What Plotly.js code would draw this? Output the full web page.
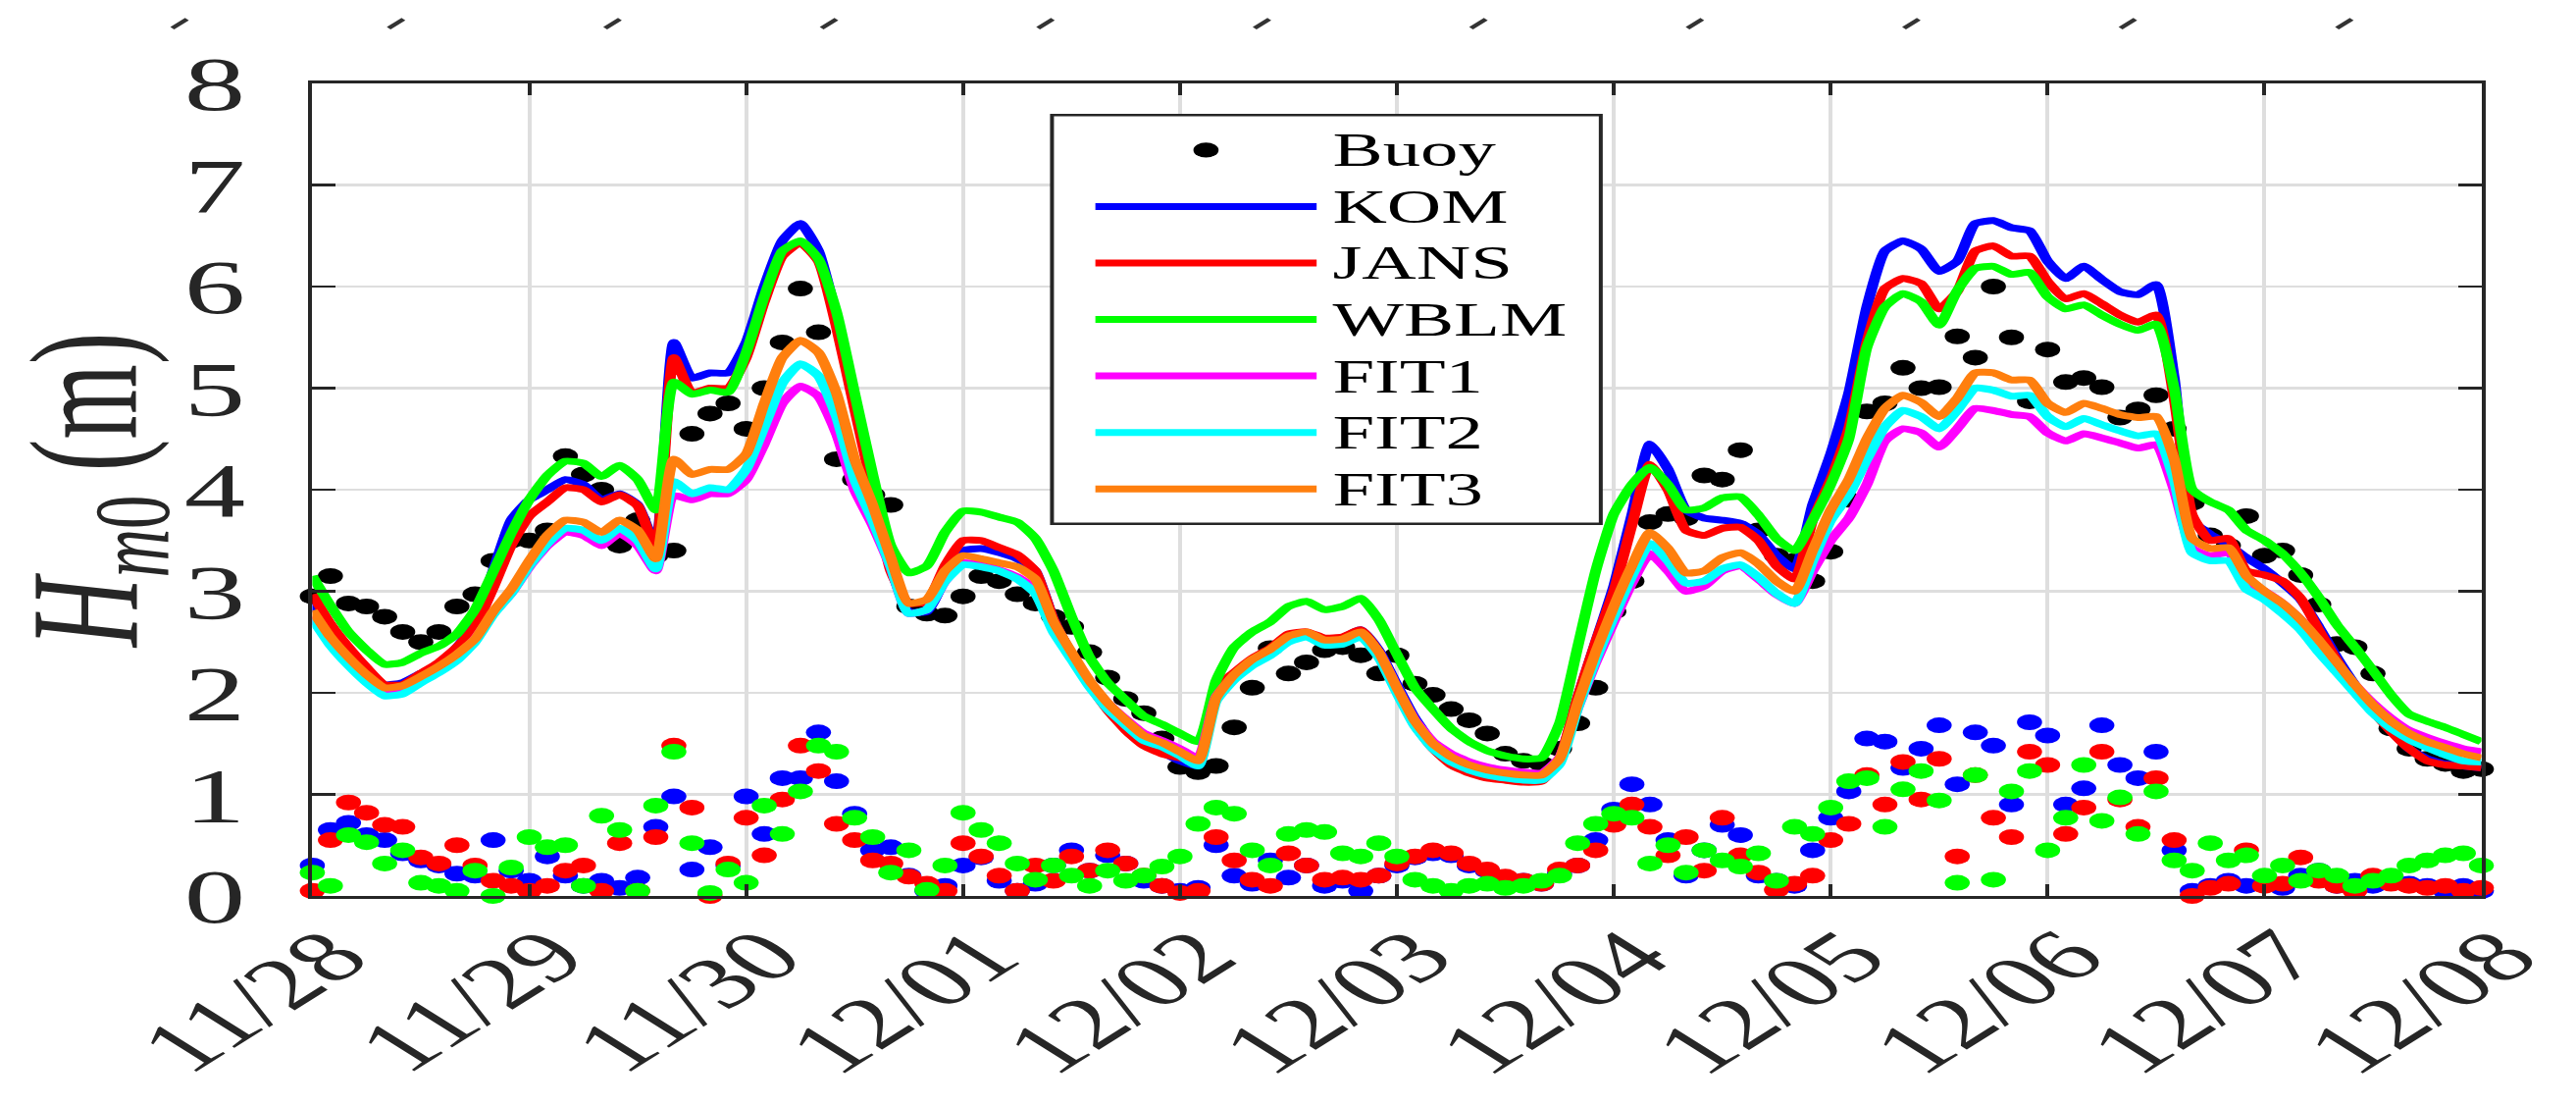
<!DOCTYPE html>
<html><head><meta charset="utf-8">
<script src="https://cdn.plot.ly/plotly-3.0.1.min.js"></script>
<style>
html,body{margin:0;padding:0;background:#fff;overflow:hidden;}
#wrap{width:2626px;height:1126px;overflow:hidden;position:relative;background:#fff;}
#chart{width:1641px;height:1126px;transform:scaleX(1.6);transform-origin:0 0;}
</style></head><body><div id="wrap"><div id="chart"></div></div>
<script>
// ---- data (2-hourly samples from 11/28 00:00) ----
const stepHours = 2;
const tickDates = ['2016-11-28','2016-11-29','2016-11-30','2016-12-01','2016-12-02','2016-12-03','2016-12-04','2016-12-05','2016-12-06','2016-12-07','2016-12-08'];
const tickLabels = ['11/28','11/29','11/30','12/01','12/02','12/03','12/04','12/05','12/06','12/07','12/08'];
const yTicks = [0,1,2,3,4,5,6,7,8];

const buoy = [2.95,3.15,2.88,2.85,2.75,2.6,2.5,2.6,2.85,2.97,3.3,3.5,
3.5,3.6,4.33,4.15,4.0,3.45,3.7,3.35,3.4,4.55,4.75,4.85,
4.6,5.0,5.45,5.98,5.55,4.3,4.1,3.95,3.85,2.85,2.78,2.76,
2.95,3.15,3.1,2.97,2.88,2.75,2.65,2.4,2.15,1.94,1.8,1.55,
1.27,1.22,1.28,1.66,2.05,2.44,2.19,2.3,2.42,2.45,2.37,2.19,
2.37,2.09,1.98,1.84,1.73,1.6,1.4,1.33,1.3,1.45,1.7,2.05,
2.8,3.1,3.68,3.76,3.72,4.14,4.1,4.39,3.6,3.35,3.3,3.1,
3.39,3.9,4.77,4.85,5.2,5.0,5.01,5.51,5.3,6.0,5.5,4.87,
5.38,5.06,5.1,5.01,4.71,4.79,4.93,4.6,3.87,3.55,3.45,3.74,
3.35,3.4,3.16,2.87,2.48,2.45,2.19,1.65,1.45,1.35,1.3,1.23,
1.25];

const kom = [2.88,2.62,2.4,2.22,2.08,2.1,2.19,2.28,2.45,2.68,3.2,3.7,
3.9,4.0,4.1,4.05,3.9,3.96,3.85,3.45,5.45,5.1,5.15,5.15,
5.45,6.0,6.45,6.62,6.35,5.7,4.9,4.1,3.25,2.8,2.8,3.12,
3.4,3.42,3.38,3.32,3.2,2.72,2.38,2.08,1.85,1.67,1.52,1.42,
1.33,1.28,2.05,2.18,2.3,2.4,2.55,2.57,2.5,2.54,2.62,2.42,
2.08,1.75,1.5,1.32,1.25,1.19,1.15,1.13,1.15,1.35,1.95,2.5,
3.05,3.75,4.45,4.2,3.8,3.72,3.7,3.67,3.56,3.35,3.22,3.85,
4.35,4.95,5.8,6.35,6.45,6.37,6.15,6.25,6.62,6.65,6.58,6.55,
6.25,6.08,6.2,6.07,5.95,5.92,6.02,5.1,3.7,3.56,3.46,3.33,
3.22,3.08,2.92,2.65,2.35,2.08,1.84,1.63,1.45,1.35,1.3,1.28,
1.26];

const jans = [2.97,2.68,2.45,2.25,2.08,2.08,2.19,2.3,2.45,2.65,3.03,3.45,
3.74,3.88,4.02,4.0,3.88,3.95,3.84,3.42,5.3,4.95,5.0,5.0,
5.3,5.85,6.3,6.43,6.25,5.6,4.8,4.0,3.2,2.88,2.9,3.25,
3.5,3.5,3.43,3.36,3.2,2.72,2.38,2.08,1.83,1.63,1.48,1.4,
1.36,1.33,2.05,2.2,2.34,2.44,2.58,2.6,2.54,2.55,2.62,2.4,
2.02,1.68,1.45,1.29,1.21,1.16,1.14,1.12,1.13,1.35,1.95,2.5,
3.0,3.65,4.25,4.0,3.6,3.55,3.62,3.63,3.5,3.25,3.12,3.7,
4.1,4.6,5.45,5.98,6.08,6.03,5.78,5.95,6.35,6.4,6.3,6.3,
6.05,5.88,5.93,5.83,5.72,5.65,5.72,4.9,3.75,3.5,3.52,3.2,
3.16,3.1,2.93,2.62,2.32,2.05,1.82,1.62,1.45,1.33,1.29,1.28,
1.26];

const wblm = [3.15,2.86,2.6,2.42,2.28,2.3,2.39,2.46,2.58,2.82,3.19,3.57,
3.9,4.14,4.28,4.26,4.13,4.24,4.1,3.8,5.06,4.94,4.98,4.96,
5.35,5.9,6.35,6.45,6.27,5.75,4.95,4.15,3.45,3.18,3.25,3.58,
3.79,3.78,3.73,3.68,3.52,3.2,2.75,2.35,2.1,1.93,1.77,1.69,
1.6,1.52,2.12,2.45,2.6,2.7,2.85,2.9,2.82,2.85,2.93,2.72,
2.38,2.05,1.84,1.65,1.52,1.43,1.38,1.35,1.36,1.7,2.45,3.2,
3.76,4.05,4.22,4.05,3.8,3.82,3.92,3.93,3.75,3.52,3.4,3.7,
4.05,4.5,5.4,5.8,5.93,5.85,5.62,5.96,6.18,6.2,6.12,6.14,
5.9,5.78,5.82,5.72,5.63,5.57,5.63,5.0,4.0,3.88,3.8,3.6,
3.5,3.37,3.18,2.94,2.67,2.45,2.22,1.98,1.79,1.72,1.66,1.59,
1.52];

const fit1 = [2.75,2.5,2.28,2.12,1.99,2.01,2.12,2.23,2.35,2.53,2.78,2.98,
3.24,3.45,3.58,3.55,3.45,3.57,3.45,3.2,3.94,3.9,3.96,3.96,
4.1,4.45,4.85,5.02,4.92,4.55,4.0,3.65,3.24,2.78,2.82,3.1,
3.28,3.26,3.21,3.14,3.02,2.63,2.37,2.1,1.9,1.74,1.6,1.53,
1.45,1.36,1.96,2.17,2.31,2.41,2.54,2.58,2.5,2.52,2.58,2.4,
2.05,1.73,1.52,1.4,1.32,1.27,1.24,1.22,1.21,1.36,1.85,2.3,
2.7,3.08,3.37,3.2,3.0,3.05,3.2,3.25,3.12,2.97,2.88,3.2,
3.5,3.72,4.05,4.48,4.6,4.56,4.42,4.6,4.8,4.78,4.74,4.72,
4.56,4.48,4.55,4.51,4.46,4.41,4.44,4.0,3.42,3.35,3.38,3.1,
3.0,2.88,2.72,2.5,2.28,2.08,1.9,1.75,1.63,1.56,1.5,1.45,
1.42];

const fit2 = [2.73,2.47,2.27,2.1,1.97,1.99,2.1,2.2,2.32,2.5,2.77,2.98,
3.25,3.47,3.62,3.6,3.5,3.62,3.5,3.22,4.08,3.96,4.02,4.0,
4.2,4.62,5.05,5.24,5.12,4.72,4.1,3.7,3.25,2.78,2.82,3.1,
3.26,3.24,3.2,3.12,2.98,2.6,2.33,2.06,1.84,1.68,1.53,1.47,
1.38,1.28,1.92,2.13,2.27,2.37,2.5,2.55,2.47,2.48,2.55,2.35,
2.0,1.67,1.45,1.32,1.24,1.19,1.16,1.14,1.14,1.3,1.85,2.33,
2.75,3.15,3.47,3.3,3.08,3.1,3.22,3.26,3.14,2.98,2.88,3.3,
3.7,3.95,4.3,4.62,4.78,4.72,4.6,4.78,5.0,4.98,4.92,4.93,
4.72,4.62,4.7,4.64,4.58,4.53,4.55,4.1,3.38,3.3,3.3,3.02,
2.92,2.78,2.62,2.4,2.2,2.0,1.8,1.65,1.54,1.46,1.39,1.33,
1.32];

const fit3 = [2.81,2.55,2.35,2.18,2.05,2.07,2.16,2.26,2.38,2.53,2.8,3.02,
3.3,3.55,3.7,3.68,3.58,3.7,3.6,3.32,4.3,4.15,4.2,4.2,
4.35,4.85,5.3,5.47,5.35,4.95,4.3,3.85,3.33,2.88,2.92,3.2,
3.35,3.32,3.28,3.24,3.12,2.7,2.4,2.12,1.9,1.73,1.58,1.51,
1.42,1.33,1.95,2.18,2.33,2.43,2.56,2.6,2.52,2.53,2.6,2.4,
2.05,1.72,1.5,1.37,1.29,1.24,1.21,1.19,1.19,1.35,1.9,2.4,
2.85,3.25,3.58,3.42,3.18,3.2,3.33,3.38,3.27,3.1,3.0,3.4,
3.8,4.1,4.5,4.8,4.93,4.86,4.72,4.9,5.15,5.15,5.08,5.08,
4.85,4.76,4.85,4.8,4.74,4.71,4.72,4.3,3.52,3.42,3.43,3.15,
3.0,2.88,2.72,2.52,2.3,2.08,1.88,1.72,1.6,1.52,1.46,1.4,
1.36];

const errKom = [0.3,0.65,0.72,0.6,0.55,0.42,0.35,0.3,0.22,0.2,0.55,0.25,
0.15,0.39,0.2,0.1,0.15,0.08,0.18,0.68,0.98,0.26,0.48,0.3,
0.98,0.61,1.16,1.16,1.61,1.13,0.81,0.45,0.48,0.2,0.05,0.1,
0.3,0.38,0.15,0.05,0.12,0.3,0.45,0.25,0.4,0.32,0.15,0.1,
0.05,0.08,0.5,0.2,0.12,0.35,0.18,0.3,0.1,0.15,0.05,0.2,
0.3,0.38,0.42,0.4,0.3,0.25,0.18,0.15,0.12,0.22,0.3,0.55,
0.85,1.1,0.9,0.55,0.2,0.45,0.7,0.6,0.2,0.15,0.1,0.45,
0.77,1.03,1.55,1.52,1.26,1.45,1.68,1.1,1.61,1.48,0.9,1.71,
1.58,0.9,1.06,1.68,1.29,1.16,1.42,0.45,0.05,0.1,0.15,0.1,
0.12,0.08,0.2,0.25,0.1,0.15,0.1,0.18,0.12,0.1,0.05,0.1,
0.05];

const errJans = [0.05,0.55,0.92,0.82,0.7,0.68,0.38,0.32,0.5,0.3,0.15,0.1,
0.05,0.1,0.25,0.3,0.05,0.52,0.05,0.58,1.48,0.87,0.0,0.32,
0.77,0.4,0.95,1.48,1.23,0.71,0.55,0.35,0.32,0.19,0.12,0.05,
0.52,0.39,0.2,0.05,0.3,0.15,0.39,0.25,0.45,0.32,0.2,0.1,
0.03,0.05,0.58,0.35,0.16,0.1,0.42,0.3,0.16,0.18,0.16,0.2,
0.32,0.39,0.45,0.42,0.32,0.26,0.19,0.15,0.12,0.26,0.3,0.45,
0.7,0.9,0.68,0.4,0.58,0.25,0.77,0.4,0.23,0.06,0.12,0.2,
0.55,0.71,1.19,0.9,1.32,0.95,1.35,0.39,1.19,0.77,0.58,1.42,
1.29,0.61,0.87,1.42,0.95,0.68,1.16,0.55,0.0,0.08,0.12,0.45,
0.1,0.12,0.38,0.15,0.1,0.05,0.2,0.12,0.1,0.08,0.1,0.05,
0.08];

const errWblm = [0.23,0.1,0.6,0.53,0.32,0.45,0.13,0.1,0.05,0.25,0.0,0.28,
0.58,0.48,0.5,0.1,0.79,0.65,0.05,0.89,1.42,0.52,0.03,0.26,
0.13,0.89,0.61,1.03,1.48,1.42,0.77,0.58,0.23,0.45,0.06,0.3,
0.82,0.65,0.52,0.32,0.16,0.3,0.2,0.1,0.25,0.15,0.2,0.29,
0.39,0.71,0.87,0.81,0.45,0.3,0.61,0.65,0.63,0.42,0.39,0.52,
0.39,0.16,0.1,0.05,0.1,0.12,0.08,0.1,0.15,0.2,0.52,0.71,
0.81,0.77,0.32,0.5,0.23,0.45,0.35,0.29,0.42,0.15,0.68,0.61,
0.87,1.13,1.16,0.68,1.05,1.23,0.94,0.13,1.19,0.16,1.03,1.23,
0.45,0.77,1.29,0.74,0.97,0.61,1.03,0.35,0.25,0.52,0.35,0.4,
0.2,0.3,0.15,0.25,0.2,0.1,0.15,0.2,0.3,0.35,0.4,0.42,
0.3];

// ---- time axis built from start + step ----
const t0 = Date.UTC(2016, 10, 28);
const times = buoy.map((_, i) => new Date(t0 + i * stepHours * 3600000).toISOString().slice(0, 19).replace('T', ' '));

const C = {blue:'#0000ff', red:'#ff0000', green:'#00ff00', magenta:'#ff00ff', cyan:'#00ffff', orange:'#ff7f0e', ink:'#262626'};
const LW = 7, MS = 16;
const FONT = 'Liberation Serif';

function dots(y, color, name) {
  return {x: times, y: y, type: 'scatter', mode: 'markers', name: name, cliponaxis: false,
          marker: {color: color, size: MS, line: {width: 0}}, hoverinfo: 'skip'};
}
function line(y, color, name) {
  return {x: times, y: y, type: 'scatter', mode: 'lines', name: name,
          line: {color: color, width: LW, shape: 'spline', smoothing: 0.5}, hoverinfo: 'skip'};
}

const data = [
  dots(buoy, '#000000', 'Buoy'),
  dots(errKom, C.blue, 'KOM error'),
  dots(errJans, C.red, 'JANS error'),
  dots(errWblm, C.green, 'WBLM error'),
  line(kom, C.blue, 'KOM'),
  line(jans, C.red, 'JANS'),
  line(wblm, C.green, 'WBLM'),
  line(fit1, C.magenta, 'FIT1'),
  line(fit2, C.cyan, 'FIT2'),
  line(fit3, C.orange, 'FIT3')
];

// ---- hand-built legend (MATLAB style long line samples) ----
const legItems = [
  {name:'Buoy', color:'#000000', kind:'dot'},
  {name:'KOM', color:C.blue}, {name:'JANS', color:C.red}, {name:'WBLM', color:C.green},
  {name:'FIT1', color:C.magenta}, {name:'FIT2', color:C.cyan}, {name:'FIT3', color:C.orange}
];
const legBox = {x0:0.341, x1:0.594, y0:0.458, y1:0.961};
const legRowTop = 0.918, legRowStep = 0.0695;
const legLineX = [0.361, 0.463], legTextX = 0.469;

const shapes = [{type:'rect', xref:'paper', yref:'paper', x0:legBox.x0, x1:legBox.x1, y0:legBox.y0, y1:legBox.y1,
  line:{color:C.ink, width:2.5}, fillcolor:'#ffffff', layer:'above'}];
const annotations = [];
legItems.forEach((it, i) => {
  const yy = legRowTop - i * legRowStep;
  if (it.kind === 'dot') {
    const cx = (legLineX[0] + legLineX[1]) / 2;
    shapes.push({type:'circle', xref:'paper', yref:'paper', x0:cx-0.0058, x1:cx+0.0058, y0:yy-0.0092, y1:yy+0.0092,
      fillcolor:'#000', line:{width:0}, layer:'above'});
  } else {
    shapes.push({type:'line', xref:'paper', yref:'paper', x0:legLineX[0], x1:legLineX[1], y0:yy, y1:yy,
      line:{color:it.color, width:LW}, layer:'above'});
  }
  annotations.push({xref:'paper', yref:'paper', x:legTextX, y:yy, xanchor:'left', yanchor:'middle', showarrow:false,
    text:it.name, font:{family:FONT, size:48, color:'#000'}});
});

// rotated date labels under the x axis, placed on the axis scale
tickDates.forEach((d, i) => annotations.push({xref:'x', yref:'y', x:d, y:0, xanchor:'right', yanchor:'top',
  xshift:53, yshift:-16, textangle:-45, showarrow:false, text:tickLabels[i],
  font:{family:FONT, size:74, color:'#262626'}}));

// small slanted fragments of a panel above (cropped tick labels), paper coords
const topMarksX = [-0.0612,0.0386,0.1384,0.2382,0.338,0.4378,0.5376,0.6374,0.7372,0.837,0.9368];
topMarksX.forEach(px => shapes.push({type:'line', xref:'paper', yref:'paper', x0:px-0.0034, x1:px+0.0034,
  y0:1.068, y1:1.079, line:{color:'#333', width:3.5}}));

const axisCommon = {showline:true, linecolor:C.ink, linewidth:3, mirror:'ticks', ticks:'inside', tickwidth:2.5,
  tickcolor:C.ink, showgrid:true, gridcolor:'#dedede', gridwidth:2.5, zeroline:false,
  tickfont:{family:FONT, size:78, color:'#262626'}};

const layout = {
  width:1641, height:1126,
  margin:{l:199, r:60, t:85, b:213, pad:0},
  paper_bgcolor:'#ffffff', plot_bgcolor:'#ffffff',
  showlegend:false,
  font:{family:FONT, color:'#262626'},
  xaxis:Object.assign({}, axisCommon, {type:'date', range:[tickDates[0], tickDates[tickDates.length-1]],
    tickmode:'array', tickvals:tickDates, ticktext:tickLabels, showticklabels:false, ticklen:12}),
  yaxis:Object.assign({}, axisCommon, {range:[0,8], tickmode:'array', tickvals:yTicks, ticktext:yTicks.map(String),
    ticklen:15, ticklabelstandoff:24,
    title:{text:'<i>H</i><sub><i>m</i>0</sub> (m)', font:{family:FONT, size:98, color:'#262626'}, standoff:22}}),
  shapes:shapes, annotations:annotations
};

Plotly.newPlot('chart', data, layout, {displayModeBar:false, staticPlot:true});
</script></body></html>
